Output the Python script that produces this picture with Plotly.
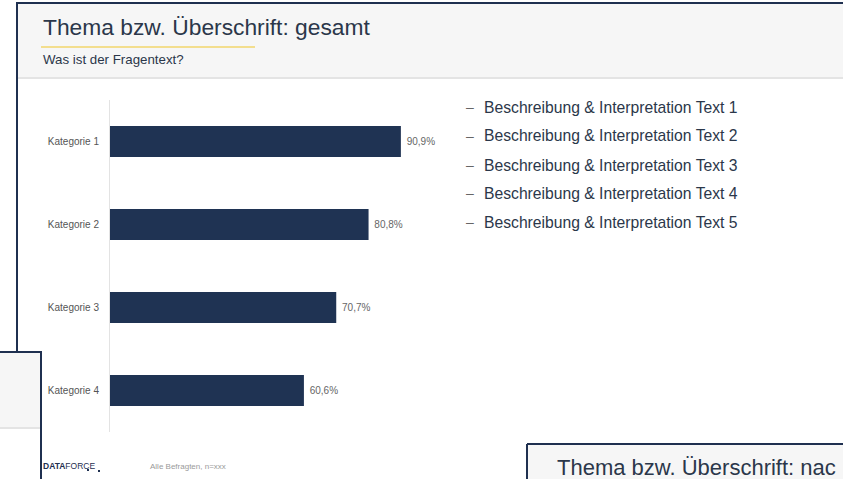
import plotly.graph_objects as go

# ---- data ----
categories = ["Kategorie 1", "Kategorie 2", "Kategorie 3", "Kategorie 4"]
values = [90.9, 80.8, 70.7, 60.6]
bullets = [
    "Beschreibung & Interpretation Text 1",
    "Beschreibung & Interpretation Text 2",
    "Beschreibung & Interpretation Text 3",
    "Beschreibung & Interpretation Text 4",
    "Beschreibung & Interpretation Text 5",
]
title_text = "Thema bzw. Überschrift: gesamt"
subtitle_text = "Was ist der Fragentext?"
footer_text = "Alle Befragten, n=xxx"
next_title_text = "Thema bzw. Überschrift: nac"

W, H = 843, 479
NAVY = "#1f3050"
BAR = "#1f3353"
FONT = "Liberation Sans, Arial, sans-serif"


def fx(px):
    return px / W


def fy(py):
    return 1 - py / H


def rect(x0, y0, x1, y1, fill, line=None):
    return dict(type="rect", xref="paper", yref="paper", x0=fx(x0), x1=fx(x1),
                y0=fy(y1), y1=fy(y0), fillcolor=fill,
                line=dict(width=0) if line is None else line, layer="below")


def seg(x0, y0, x1, y1, color, width):
    return dict(type="line", xref="paper", yref="paper", x0=fx(x0), x1=fx(x1),
                y0=fy(y0), y1=fy(y1), line=dict(color=color, width=width), layer="above")


fig = go.Figure()
fig.add_trace(go.Bar(
    x=values, y=categories, orientation="h",
    marker=dict(color=BAR, line=dict(width=0)),
    width=0.375,
    texttemplate="\u00a0%{x:.1f}%", textposition="outside",
    textfont=dict(size=10, color="#666666", family=FONT),
    cliponaxis=False, hoverinfo="skip",
))

shapes = [
    # main slide header
    rect(17, 3, W, 77, "#f6f6f6"),
    rect(17, 77, W, 79, "#e4e4e4"),
    # bottom-left overlapping slide
    rect(0, 352, 41, H, "#ffffff"),
    rect(0, 352, 41, 427, "#f6f6f6"),
    rect(0, 427, 41, 429, "#e4e4e4"),
    # bottom-right overlapping slide
    rect(527, 444, W, H, "#f6f6f6"),
    # frames
    seg(16, 3, W, 3, NAVY, 2),
    seg(17, 3, 17, 352, NAVY, 2),
    seg(0, 352, 42, 352, NAVY, 2),
    seg(41, 352, 41, H, NAVY, 2),
    seg(527, 444, W, 444, NAVY, 2),
    seg(527, 444, 527, H, NAVY, 2),
    # yellow underline of the title
    seg(41, 47, 255, 47, "#f2d66b", 1.5),
    # logo dots
    rect(87, 469, 89, 471, NAVY),
    rect(98, 470, 100, 472, NAVY),
]

ann = [
    dict(x=fx(41), y=fy(27), text=title_text, xanchor="left", yanchor="middle",
         font=dict(size=22.8, color="#2b374a", family=FONT)),
    dict(x=fx(41), y=fy(59), text=subtitle_text, xanchor="left", yanchor="middle",
         font=dict(size=13.3, color="#2b374a", family=FONT)),
    dict(x=fx(41), y=fy(466), text="<b>DATA</b>FORCE", xanchor="left", yanchor="middle",
         font=dict(size=8.5, color=NAVY, family=FONT)),
    dict(x=fx(148), y=fy(466), text=footer_text, xanchor="left", yanchor="middle",
         font=dict(size=8, color="#9a9a9a", family=FONT)),
    dict(x=fx(555), y=fy(467), text=next_title_text, xanchor="left", yanchor="middle",
         font=dict(size=22, color="#2b374a", family=FONT)),
]
bullet_y = [107, 136, 165, 193, 222]
for t, yy in zip(bullets, bullet_y):
    ann.append(dict(x=fx(464), y=fy(yy), text="–", xanchor="left", yanchor="middle",
                    font=dict(size=14, color="#666666", family=FONT)))
    ann.append(dict(x=fx(482), y=fy(yy), text=t, xanchor="left", yanchor="middle",
                    font=dict(size=15.7, color="#2b374a", family=FONT)))
for a in ann:
    a.update(xref="paper", yref="paper", showarrow=False)

fig.update_layout(
    width=W, height=H, margin=dict(l=0, r=0, t=0, b=0),
    paper_bgcolor="#ffffff", plot_bgcolor="rgba(0,0,0,0)",
    showlegend=False, separators=",.",
    shapes=shapes, annotations=ann,
    font=dict(family=FONT),
    xaxis=dict(domain=[fx(110), fx(430)], range=[0, 100], visible=False, fixedrange=True),
    yaxis=dict(domain=[fy(432), fy(100)], type="category", autorange="reversed",
               showline=True, linecolor="#e3e3e3", linewidth=1,
               ticks="outside", ticklen=8, tickcolor="rgba(0,0,0,0)",
               tickfont=dict(size=10, color="#555555", family=FONT),
               showgrid=False, zeroline=False, fixedrange=True),
)

fig.write_html(
    "out.html",
    config={"displayModeBar": False},
    post_script="document.body.style.margin='0';document.body.style.overflow='hidden';",
)
